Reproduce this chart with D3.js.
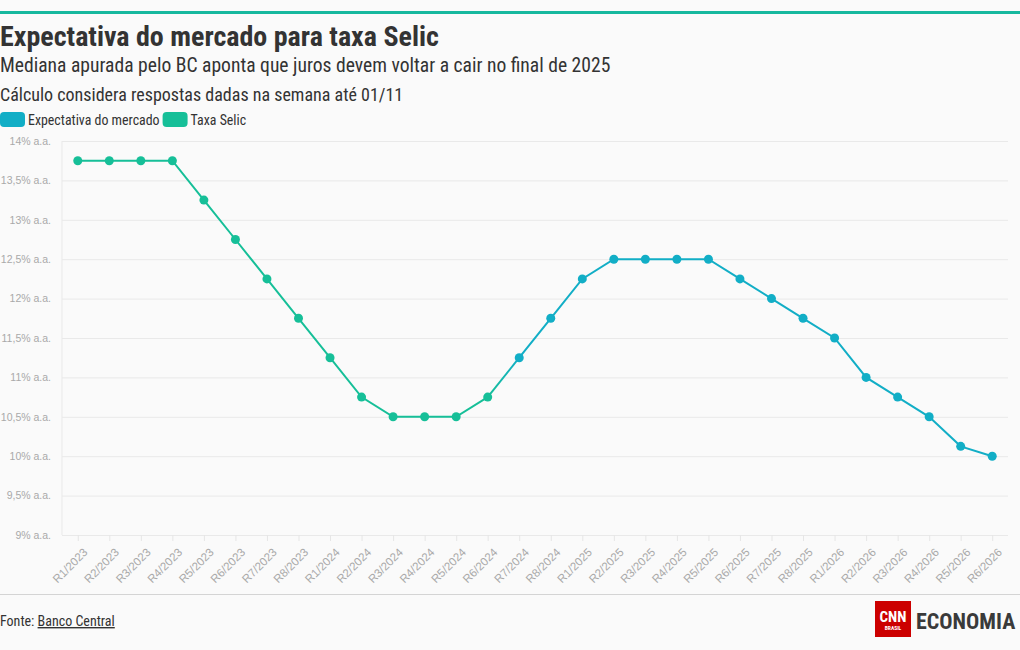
<!DOCTYPE html>
<html><head><meta charset="utf-8">
<script src="https://cdn.jsdelivr.net/npm/d3@7"></script>
<style>
body{margin:0;background:#fafafa;}
svg{display:block;font-family:"Liberation Sans Narrow","Roboto Condensed","DejaVu Sans Condensed",sans-serif;}
</style></head>
<body><svg id="c" width="1020" height="650"></svg>
<script>
const categories = ["R1/2023","R2/2023","R3/2023","R4/2023","R5/2023","R6/2023","R7/2023","R8/2023",
"R1/2024","R2/2024","R3/2024","R4/2024","R5/2024","R6/2024","R7/2024","R8/2024",
"R1/2025","R2/2025","R3/2025","R4/2025","R5/2025","R6/2025","R7/2025","R8/2025",
"R1/2026","R2/2026","R3/2026","R4/2026","R5/2026","R6/2026"];
const selicCats = categories.slice(0,14);
const selicValues = [13.75,13.75,13.75,13.75,13.25,12.75,12.25,11.75,11.25,10.75,10.5,10.5,10.5,10.75];
const expectCats = categories.slice(13);
const expectValues = [10.75,11.25,11.75,12.25,12.5,12.5,12.5,12.5,12.25,12.0,11.75,11.5,11.0,10.75,10.5,10.125,10.0];
const yTicks = [9,9.5,10,10.5,11,11.5,12,12.5,13,13.5,14];
const seriesNames = ["Expectativa do mercado","Taxa Selic"];
const colors = {expect:"#12aec6", selic:"#16bf98"};

const svg = d3.select("#c");
svg.append("rect").attr("width",1020).attr("height",650).attr("fill","#fafafa");
svg.append("rect").attr("x",0).attr("y",11).attr("width",1020).attr("height",3).attr("fill","#17b89e");

svg.append("text").attr("x",0).attr("y",46).attr("font-size",28).attr("font-weight","bold").attr("fill","#333")
  .text("Expectativa do mercado para taxa Selic");
svg.append("text").attr("x",0).attr("y",72).attr("font-size",19.6).attr("fill","#333")
  .text("Mediana apurada pelo BC aponta que juros devem voltar a cair no final de 2025");
svg.append("text").attr("x",0).attr("y",101).attr("font-size",18).attr("fill","#333")
  .text("Cálculo considera respostas dadas na semana até 01/11");

// legend
const lg1 = svg.append("g");
lg1.append("rect").attr("x",0).attr("y",112).attr("width",25).attr("height",15).attr("rx",4).attr("fill",colors.expect);
const t1 = lg1.append("text").attr("x",28).attr("y",124.5).attr("font-size",13.9).attr("fill","#333").text(seriesNames[0]);
const w1 = t1.node().getComputedTextLength();
lg1.append("rect").attr("x",28+w1+3).attr("y",112).attr("width",25).attr("height",15).attr("rx",4).attr("fill",colors.selic);
lg1.append("text").attr("x",28+w1+31).attr("y",124.5).attr("font-size",13.9).attr("fill","#333").text(seriesNames[1]);

const x = d3.scalePoint().domain(categories).range([62,1008]).padding(0.5);
const y = d3.scaleLinear().domain([9,14]).range([535,141]);

// grid
const gy = svg.append("g").attr("transform","translate(62,0)")
  .call(d3.axisLeft(y).tickValues(yTicks).tickSize(-946).tickPadding(11)
    .tickFormat(d => String(d).replace(".",",") + "% a.a."));
gy.select(".domain").remove();
gy.selectAll(".tick line").attr("stroke","#e9e9e9");
gy.selectAll(".tick text").attr("fill","#a9a9a9").attr("font-size",10.5);
svg.append("line").attr("x1",62).attr("x2",62).attr("y1",141).attr("y2",535).attr("stroke","#e9e9e9");

const gx = svg.append("g").attr("transform","translate(0,535)")
  .call(d3.axisBottom(x).tickSize(6).tickPadding(4));
gx.select(".domain").remove();
gx.selectAll(".tick line").attr("stroke","#e6e6e6");
gx.selectAll(".tick text").attr("fill","#a9a9a9").attr("font-size",11.5)
  .attr("text-anchor","end").attr("dy","0").attr("dx","0")
  .attr("transform","translate(3,11) rotate(-45)");

// lines
const line = d3.line().x(d=>x(d[0])).y(d=>y(d[1]));
const expData = expectCats.map((c,i)=>[c,expectValues[i]]);
const selData = selicCats.map((c,i)=>[c,selicValues[i]]);

const defs = svg.append("defs");
const grad = defs.append("linearGradient").attr("id","tr").attr("gradientUnits","userSpaceOnUse")
  .attr("x1",x(expectCats[0])).attr("x2",x(expectCats[1])).attr("y1",0).attr("y2",0);
grad.append("stop").attr("offset","0%").attr("stop-color",colors.selic);
grad.append("stop").attr("offset","100%").attr("stop-color",colors.expect);

svg.append("path").datum(expData.slice(1)).attr("d",line).attr("fill","none").attr("stroke",colors.expect).attr("stroke-width",2);
svg.append("path").datum(expData.slice(0,2)).attr("d",line).attr("fill","none").attr("stroke","url(#tr)").attr("stroke-width",2);
svg.append("path").datum(selData).attr("d",line).attr("fill","none").attr("stroke",colors.selic).attr("stroke-width",2);

svg.append("g").selectAll("circle").data(expData.slice(1)).join("circle")
  .attr("cx",d=>x(d[0])).attr("cy",d=>y(d[1])).attr("r",4.5).attr("fill",colors.expect);
svg.append("g").selectAll("circle").data(selData).join("circle")
  .attr("cx",d=>x(d[0])).attr("cy",d=>y(d[1])).attr("r",4.5).attr("fill",colors.selic);

// footer
svg.append("line").attr("x1",0).attr("x2",1020).attr("y1",594.5).attr("y2",594.5).attr("stroke","#d4d4d4");
const f = svg.append("text").attr("x",0).attr("y",626).attr("font-size",14).attr("fill","#333");
f.append("tspan").text("Fonte: ");
f.append("tspan").attr("text-decoration","underline").text("Banco Central");

// logo
svg.append("rect").attr("x",875).attr("y",601).attr("width",36).attr("height",36).attr("fill","#cc0000");
svg.append("text").attr("x",893).attr("y",622).attr("text-anchor","middle").attr("font-size",15).attr("font-weight","bold")
  .attr("fill","#fff").text("CNN");
svg.append("text").attr("x",893).attr("y",630).attr("text-anchor","middle").attr("font-size",5.5).attr("font-weight","bold")
  .attr("fill","#fff").text("BRASIL");
svg.append("text").attr("x",916).attr("y",629).attr("font-size",22).attr("font-weight","bold").attr("fill","#3a3a3a")
  .text("ECONOMIA");
</script></body></html>
